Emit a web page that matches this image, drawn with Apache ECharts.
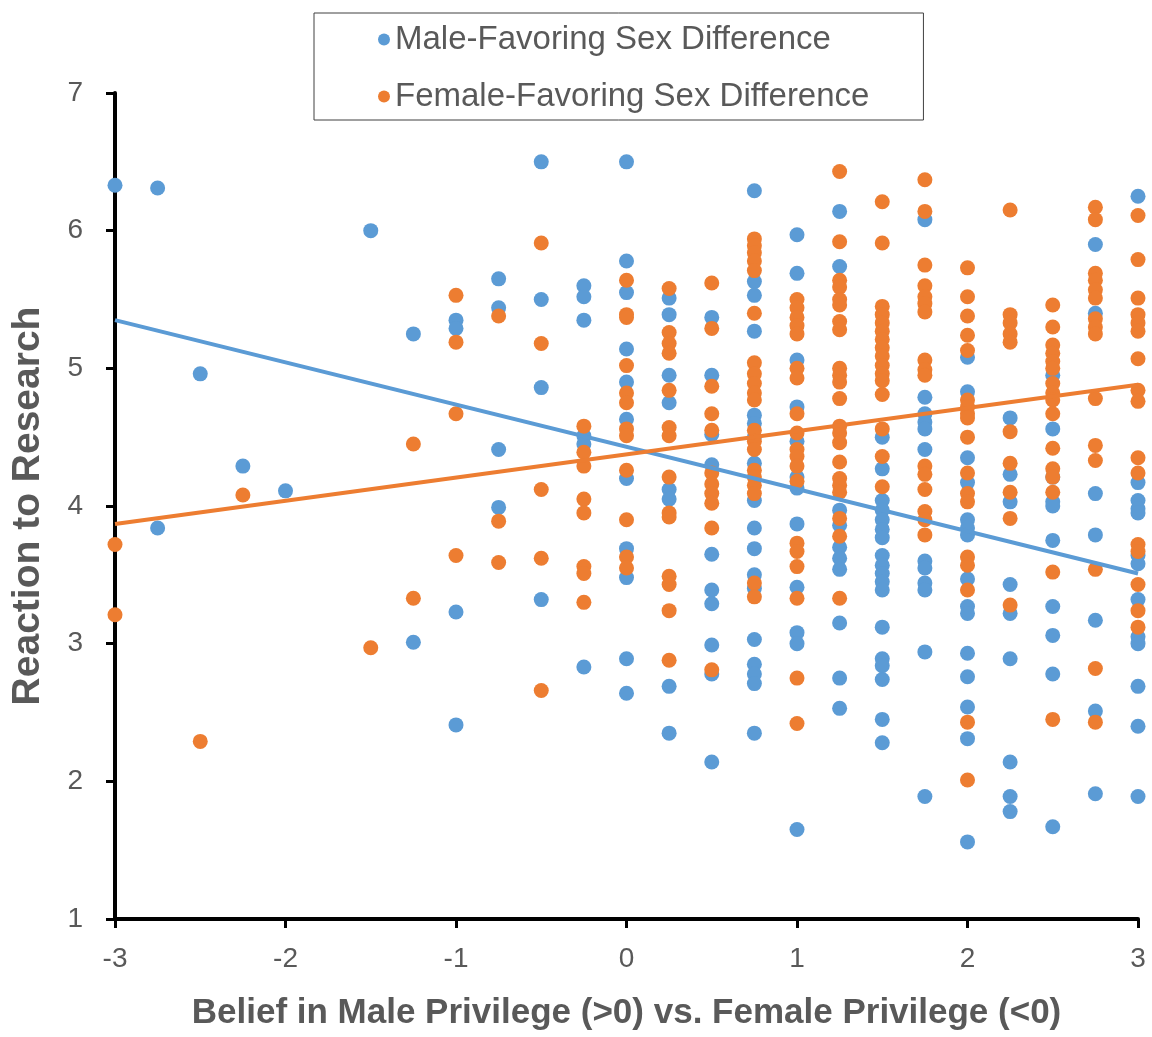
<!DOCTYPE html>
<html>
<head>
<meta charset="utf-8">
<script src="https://cdn.jsdelivr.net/npm/echarts@6/dist/echarts.min.js"></script>
<style>
html,body{margin:0;padding:0;background:#fff;}
#chart{width:1152px;height:1037px;}
</style>
</head>
<body>
<div id="chart"></div>
<script>
// x positions of the point columns
const xColumns = [-3,-2.75,-2.5,-2.25,-2,-1.75,-1.5,-1.25,-1,-0.75,-0.5,-0.25,0,0.25,0.5,0.75,1,1.25,1.5,1.75,2,2.25,2.5,2.75,3];

// Male-favoring sex difference: y values for each column
const maleValues = [
  [6.33],
  [6.31,3.84],
  [4.96],
  [4.29],
  [4.11],
  [],
  [6.00],
  [5.25,3.01],
  [5.35,5.29,3.23,2.41],
  [5.65,5.44,4.41,3.99],
  [6.50,5.50,4.86,3.32],
  [5.60,5.52,5.35,4.51,4.45,2.83],
  [6.50,5.78,5.55,5.14,4.90,4.63,4.20,3.69,3.48,2.89,2.64],
  [5.51,5.39,4.95,4.75,4.12,4.05,2.69,2.35],
  [5.37,4.95,4.52,4.30,3.65,3.39,3.29,2.99,2.78,2.14],
  [6.29,5.63,5.53,5.27,4.66,4.60,4.50,4.31,4.04,3.84,3.69,3.50,3.40,3.03,2.85,2.78,2.71,2.35],
  [5.97,5.69,5.06,4.72,4.47,4.21,4.13,3.87,3.41,3.08,3.00,1.65],
  [6.14,5.74,3.97,3.86,3.70,3.62,3.54,3.15,2.75,2.53],
  [4.50,4.27,4.04,3.97,3.90,3.83,3.77,3.64,3.57,3.51,3.45,3.39,3.12,2.89,2.84,2.74,2.45,2.28],
  [6.08,4.79,4.67,4.61,4.56,4.41,3.60,3.55,3.44,3.39,2.94,1.89],
  [5.08,4.83,4.35,4.17,3.90,3.84,3.79,3.47,3.27,3.22,2.93,2.76,2.54,2.31,1.56],
  [4.64,4.23,4.03,3.43,3.22,2.89,2.14,1.89,1.78],
  [4.95,4.56,4.21,4.03,4.00,3.75,3.27,3.06,2.78,1.67],
  [5.90,5.40,4.09,3.79,3.17,2.51,1.91],
  [6.25,4.17,4.04,3.98,3.95,3.64,3.58,3.32,3.05,3.00,2.69,2.40,1.89]
];

// Female-favoring sex difference: y values for each column
const femaleValues = [
  [3.72,3.21],
  [],
  [2.29],
  [4.08],
  [],
  [],
  [2.97],
  [4.45,3.33],
  [5.53,5.19,4.67,3.64],
  [5.38,3.89,3.59],
  [5.91,5.18,4.12,3.62,2.66],
  [4.58,4.39,4.29,4.05,3.95,3.56,3.51,3.30],
  [5.64,5.39,5.37,5.02,4.82,4.75,4.56,4.51,4.26,3.90,3.63,3.55],
  [5.58,5.26,5.18,5.11,4.84,4.57,4.51,4.21,3.95,3.92,3.49,3.43,3.24,2.88],
  [5.62,5.29,4.87,4.67,4.55,4.24,4.16,4.09,4.02,3.84,2.81],
  [5.94,5.89,5.84,5.78,5.71,5.40,5.04,4.96,4.89,4.82,4.77,4.55,4.47,4.41,4.26,4.21,4.15,4.09,3.44,3.34],
  [5.50,5.44,5.37,5.31,5.25,5.00,4.93,4.67,4.53,4.41,4.36,4.29,4.18,3.73,3.67,3.56,3.33,2.75,2.42],
  [6.43,5.92,5.64,5.59,5.50,5.46,5.34,5.28,5.00,4.95,4.90,4.78,4.58,4.53,4.46,4.32,4.20,4.15,4.10,3.91,3.78,3.33],
  [6.21,5.91,5.45,5.39,5.33,5.27,5.21,5.15,5.09,5.02,4.96,4.91,4.81,4.56,4.36,4.14],
  [6.37,6.14,5.75,5.60,5.52,5.47,5.41,5.06,4.99,4.95,4.29,4.23,4.12,3.96,3.90,3.79],
  [5.73,5.52,5.38,5.24,5.13,4.77,4.72,4.67,4.64,4.50,4.24,4.09,4.03,3.63,3.57,3.39,2.43,2.01],
  [6.15,5.39,5.33,5.25,5.19,4.54,4.31,4.10,3.91,3.28],
  [5.46,5.30,5.17,5.11,5.05,5.00,4.89,4.82,4.77,4.67,4.42,4.27,4.21,4.10,3.52,2.45],
  [6.17,6.08,5.69,5.64,5.57,5.51,5.36,5.30,5.25,4.78,4.44,4.33,3.54,2.82,2.43],
  [6.11,5.79,5.51,5.39,5.33,5.27,5.07,4.84,4.76,4.35,4.24,3.72,3.67,3.43,3.24,3.12]
];

// Linear trend lines: [x, y] endpoints
const maleTrend = [[-3, 5.35], [3, 3.51]];
const femaleTrend = [[-3, 3.87], [3, 4.88]];

const xTicks = [-3,-2,-1,0,1,2,3];
const yTicks = [1,2,3,4,5,6,7];

const seriesNames = ['Male-Favoring Sex Difference', 'Female-Favoring Sex Difference'];
const axisTitles = ['Belief in Male Privilege (>0) vs. Female Privilege (<0)', 'Reaction to Research'];

function toPoints(values) {
  const pts = [];
  values.forEach((col, i) => col.forEach(v => pts.push([xColumns[i], v])));
  return pts;
}

const BLUE = '#5B9BD5';
const ORANGE = '#ED7D31';
const GRAY = '#595959';
const FONT = 'Liberation Sans, Arial, sans-serif';

const chart = echarts.init(document.getElementById('chart'));
chart.setOption({
  animation: false,
  backgroundColor: '#fff',
  textStyle: { fontFamily: FONT },
  grid: { left: 115, right: 14, top: 93, bottom: 118, containLabel: false },
  legend: {
    data: seriesNames,
    orient: 'vertical',
    left: 314,
    top: 13,
    padding: [10, 54, 7, 64],
    itemGap: 24,
    itemWidth: 12,
    itemHeight: 12,
    icon: 'circle',
    borderColor: '#404040',
    borderWidth: 1,
    textStyle: { fontSize: 33, color: GRAY, fontFamily: FONT }
  },
  xAxis: {
    type: 'value',
    min: -3, max: 3, interval: 1,
    name: axisTitles[0],
    nameLocation: 'middle',
    nameGap: 77,
    nameTextStyle: { fontSize: 35, fontWeight: 'bold', color: GRAY, fontFamily: FONT },
    axisLine: { onZero: false, lineStyle: { color: '#000', width: 4 } },
    axisTick: { show: true, length: 9, lineStyle: { color: '#000', width: 3 } },
    axisLabel: { fontSize: 28, color: GRAY, margin: 26, fontFamily: FONT,
      formatter: v => xTicks.includes(v) ? String(v) : '' },
    splitLine: { show: false }
  },
  yAxis: {
    type: 'value',
    min: 1, max: 7, interval: 1,
    name: axisTitles[1],
    nameLocation: 'middle',
    nameGap: 67,
    nameTextStyle: { fontSize: 39, fontWeight: 'bold', color: GRAY, fontFamily: FONT },
    axisLine: { show: true, onZero: false, lineStyle: { color: '#000', width: 4 } },
    axisTick: { show: true, length: 9, lineStyle: { color: '#000', width: 3 } },
    axisLabel: { fontSize: 28, color: GRAY, margin: 32, fontFamily: FONT,
      formatter: v => yTicks.includes(v) ? String(v) : '' },
    splitLine: { show: false }
  },
  series: [
    {
      name: seriesNames[0], type: 'scatter', symbol: 'circle', symbolSize: 15,
      itemStyle: { color: BLUE, opacity: 1 }, data: toPoints(maleValues), z: 2
    },
    {
      name: seriesNames[1], type: 'scatter', symbol: 'circle', symbolSize: 15,
      itemStyle: { color: ORANGE, opacity: 1 }, data: toPoints(femaleValues), z: 3
    },
    {
      name: 'maleTrend', type: 'line', data: maleTrend, showSymbol: false, symbol: 'none',
      lineStyle: { color: BLUE, width: 4 }, z: 4, silent: true
    },
    {
      name: 'femaleTrend', type: 'line', data: femaleTrend, showSymbol: false, symbol: 'none',
      lineStyle: { color: ORANGE, width: 4 }, z: 5, silent: true
    }
  ]
});
</script>
</body>
</html>
